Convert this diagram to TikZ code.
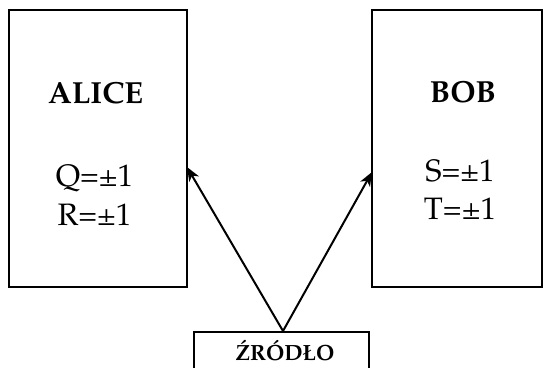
\documentclass[tikz,border=0pt]{standalone}
\usepackage[T1]{fontenc}
\usepackage{textcomp}
\usepackage{mathpazo}
\usetikzlibrary{arrows.meta}
\tikzset{
  box/.style={draw=black, line width=2pt, rectangle, inner sep=0pt},
  lbl/.style={anchor=base, inner sep=0pt, font=\fontsize{31}{36}\selectfont},
  title/.style={anchor=base, inner sep=0pt, font=\fontsize{30.5}{36}\selectfont\bfseries},
  src/.style={box, anchor=north, minimum width=175pt, text height=28pt, text depth=20pt, font=\fontsize{22}{26}\selectfont\bfseries},
  conn/.style={line width=2pt, -{Stealth[length=14pt,width=11pt,inset=4pt]}}
}
\begin{document}
\begin{tikzpicture}[x=1pt,y=-1pt]
\useasboundingbox (0,0) rectangle (543,367);
\node[box, minimum width=178pt, minimum height=277pt] (alice) at (98,148.5) {};
\node[box, minimum width=170pt, minimum height=277pt] (bob) at (457,148.5) {};
\node[src] (source) at (281.5,331) {\hspace*{7pt}\'ZR\'OD\L O};
\coordinate (atip) at (187,167);
\coordinate (btip) at (372,172);
\node[title] (tA) at (95.5,103) {ALICE};
\node[lbl] (q) at (94.5,186) {Q=\textpm1};
\node[lbl] (r) at (94.5,225) {R=\textpm1};
\node[title] (tB) at (463,102) {BOB};
\node[lbl] (s) at (460,181) {S=\textpm1};
\node[lbl] (t) at (460,219) {T=\textpm1};
\draw[conn] ([xshift=1.5pt]source.north) -- (atip);
\draw[conn] ([xshift=1.5pt]source.north) -- (btip);
\end{tikzpicture}
\end{document}
